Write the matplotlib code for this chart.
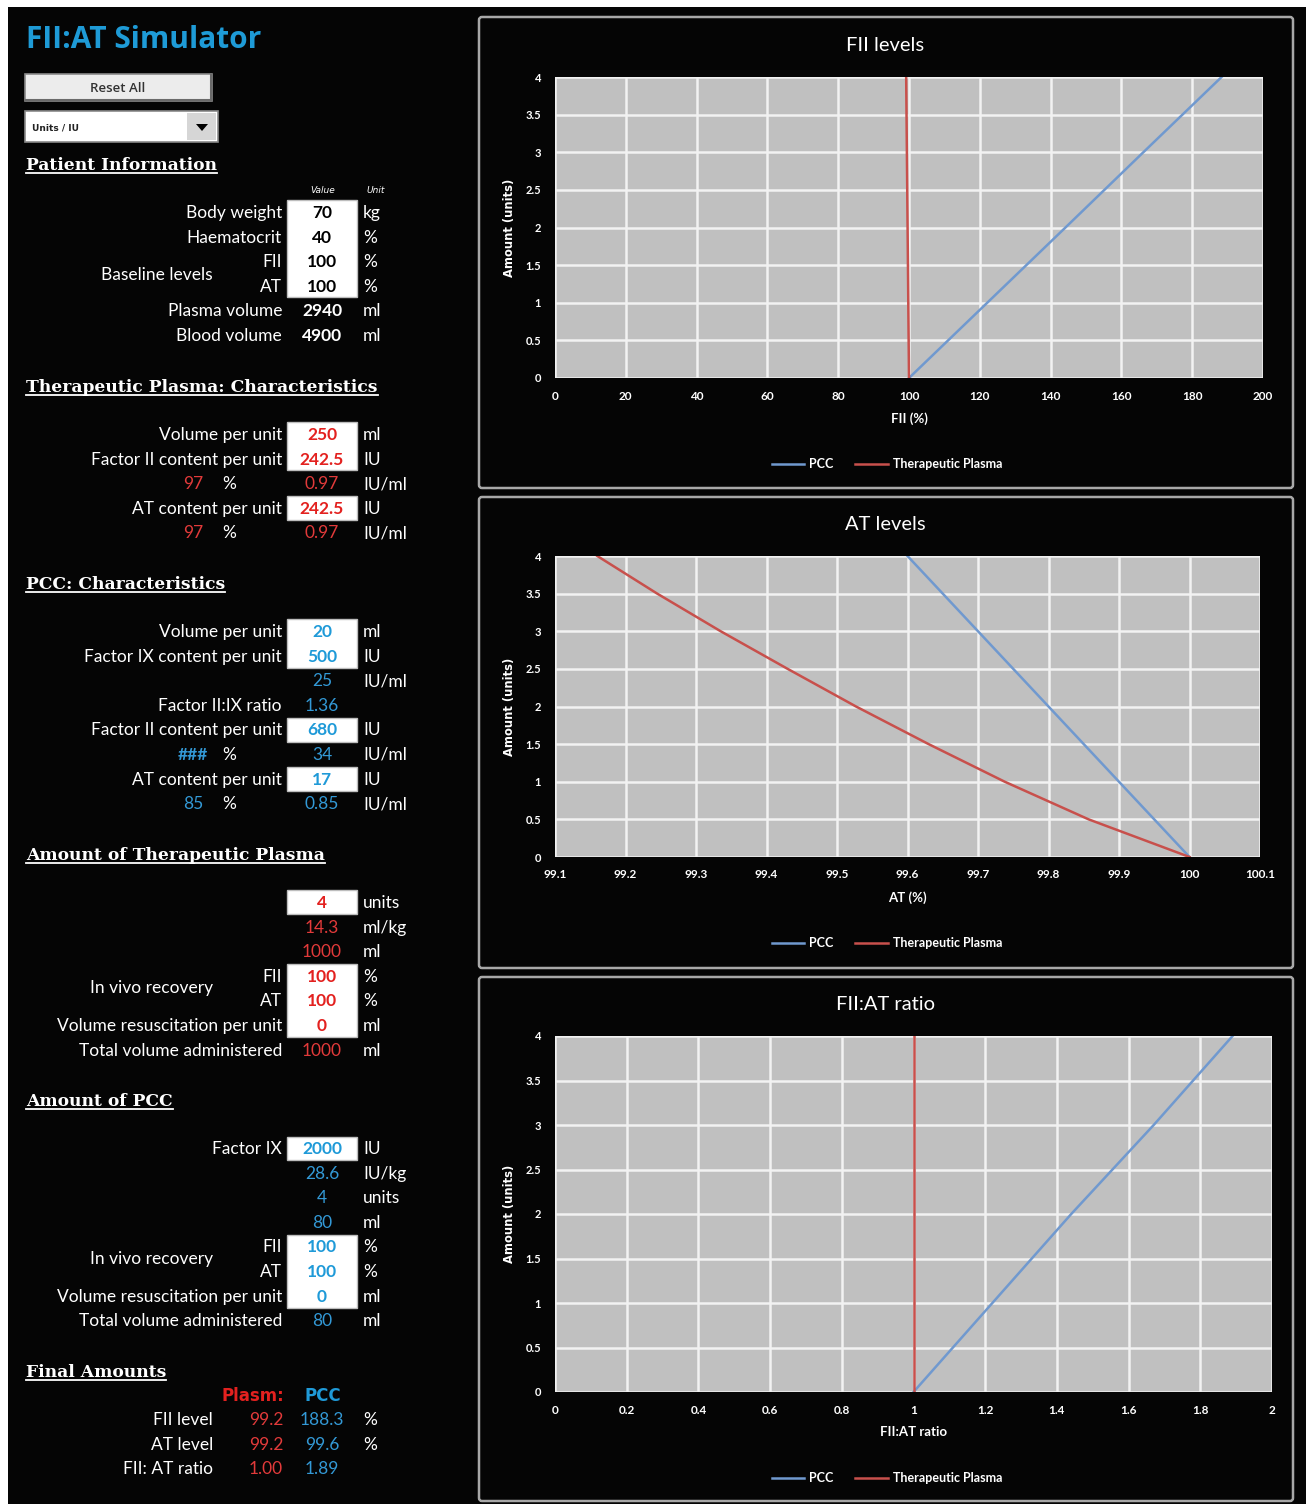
import matplotlib
matplotlib.use('Agg')
import matplotlib.pyplot as plt
from matplotlib.patches import Rectangle, FancyBboxPatch, Polygon

# ---------------- chart data ----------------
amount_units = [0, 1, 2, 3, 4]
fii_pcc = [100.0, 122.1, 144.2, 166.2, 188.3]
fii_plasma = [100.0, 99.8, 99.6, 99.4, 99.2]
amount_units_half = [0, 0.5, 1, 1.5, 2, 2.5, 3, 3.5, 4]
at_pcc = [100.0, 99.95, 99.9, 99.85, 99.8, 99.75, 99.7, 99.65, 99.6]
at_plasma = [100.0, 99.857, 99.738, 99.63, 99.527, 99.43, 99.335, 99.245, 99.16]
ratio_pcc = [1.00, 1.22, 1.44, 1.67, 1.89]
ratio_plasma = [1.00, 1.00, 1.00, 1.00, 1.00]

amount_ticks = [0, 0.5, 1, 1.5, 2, 2.5, 3, 3.5, 4]
amount_ticklabels = ['0', '0.5', '1', '1.5', '2', '2.5', '3', '3.5', '4']
fii_ticks = [0, 20, 40, 60, 80, 100, 120, 140, 160, 180, 200]
fii_ticklabels = ['0', '20', '40', '60', '80', '100', '120', '140', '160', '180', '200']
at_ticks = [99.1, 99.2, 99.3, 99.4, 99.5, 99.6, 99.7, 99.8, 99.9, 100.0, 100.1]
at_ticklabels = ['99.1', '99.2', '99.3', '99.4', '99.5', '99.6', '99.7', '99.8', '99.9', '100', '100.1']
ratio_ticks = [0, 0.2, 0.4, 0.6, 0.8, 1.0, 1.2, 1.4, 1.6, 1.8, 2.0]
ratio_ticklabels = ['0', '0.2', '0.4', '0.6', '0.8', '1', '1.2', '1.4', '1.6', '1.8', '2']

# ---------------- spreadsheet data ----------------
patient_labels = ['Body weight', 'Haematocrit', 'FII', 'AT', 'Plasma volume', 'Blood volume']
patient_values = ['70', '40', '100', '100', '2940', '4900']
patient_units = ['kg', '%', '%', '%', 'ml', 'ml']
patient_inputs = [True, True, True, True, False, False]

tp_labels = ['Volume per unit', 'Factor II content per unit', '', 'AT content per unit', '']
tp_values = ['250', '242.5', '0.97', '242.5', '0.97']
tp_units = ['ml', 'IU', 'IU/ml', 'IU', 'IU/ml']
tp_pcts = ['', '', '97', '', '97']
tp_inputs = [True, True, False, True, False]

pcc_labels = ['Volume per unit', 'Factor IX content per unit', '', 'Factor II:IX ratio',
              'Factor II content per unit', '', 'AT content per unit', '']
pcc_values = ['20', '500', '25', '1.36', '680', '34', '17', '0.85']
pcc_units = ['ml', 'IU', 'IU/ml', '', 'IU', 'IU/ml', 'IU', 'IU/ml']
pcc_pcts = ['', '', '', '', '', '###', '', '85']
pcc_inputs = [True, True, False, False, True, False, True, False]

atp_labels = ['', '', '', 'FII', 'AT', 'Volume resuscitation per unit', 'Total volume administered']
atp_values = ['4', '14.3', '1000', '100', '100', '0', '1000']
atp_units = ['units', 'ml/kg', 'ml', '%', '%', 'ml', 'ml']
atp_inputs = [True, False, False, True, True, True, False]

apcc_labels = ['Factor IX', '', '', '', 'FII', 'AT', 'Volume resuscitation per unit', 'Total volume administered']
apcc_values = ['2000', '28.6', '4', '80', '100', '100', '0', '80']
apcc_units = ['IU', 'IU/kg', 'units', 'ml', '%', '%', 'ml', 'ml']
apcc_inputs = [True, False, False, False, True, True, True, False]

final_labels = ['FII level', 'AT level', 'FII: AT ratio']
final_plasma = ['99.2', '99.2', '1.00']
final_pcc = ['188.3', '99.6', '1.89']
final_units = ['%', '%', '']

# ---------------- styling ----------------
W, H = 1306, 1504
BG = '#050505'
RED = '#e3211f'
RED_T = '#e23a3a'
BLUE = '#1f9ad8'
BLUE_T = '#3399d6'
TITLE_BLUE = '#1e9bd7'
LINE_BLUE = '#7099cf'
LINE_RED = '#c8504c'
LBL = 'Lato'
HEAD = 'DejaVu Serif'

fig = plt.figure(figsize=(W / 100, H / 100), dpi=100, facecolor='white')
ov = fig.add_axes([0, 0, 1, 1])
ov.set_xlim(0, W)
ov.set_ylim(H, 0)
ov.axis('off')
ov.add_patch(Rectangle((8, 7), W - 8, H - 7, facecolor=BG, edgecolor='none', zorder=0))

# chart panel frames
for (x0, y0, x1, y1) in [(479, 17, 1293, 488), (479, 497, 1293, 968), (479, 977, 1293, 1501)]:
    ov.add_patch(FancyBboxPatch((x0, y0), x1 - x0, y1 - y0, boxstyle='round,pad=0,rounding_size=3',
                                facecolor='none', edgecolor='#a8a8a8', lw=1.8, zorder=2))

# title
ov.text(26, 48, 'FII:AT Simulator', color=TITLE_BLUE, fontsize=21.5, fontweight='bold',
        family='Open Sans', va='baseline', ha='left')

# Reset button
ov.add_patch(Rectangle((25, 74), 187, 27, facecolor='#ececec', edgecolor='#8a8a8a', lw=1.2, zorder=2))
ov.plot([26, 211], [100, 100], color='#6a6a6a', lw=1.5, zorder=3)
ov.plot([211, 211], [75, 100], color='#6a6a6a', lw=1.5, zorder=3)
ov.text(118, 88, 'Reset All', color='#333333', fontsize=9.5, fontweight='semibold', family='Open Sans',
        ha='center', va='center', zorder=3)
# dropdown
ov.add_patch(Rectangle((25, 111), 193, 31, facecolor='white', edgecolor='#8a8a8a', lw=1.2, zorder=2))
ov.add_patch(Rectangle((187, 113), 29, 27, facecolor='#d6d6d6', edgecolor='none', zorder=3))
ov.add_patch(Polygon([(196, 124), (208, 124), (202, 131)], closed=True, facecolor='black', zorder=4))
ov.text(32, 128, 'Units / IU', color='#222222', fontsize=6.5, fontweight='bold', family='DejaVu Sans',
        ha='left', va='center', zorder=4)

X_LABEL = 282
X_VAL = 322
X_UNIT = 363
X_PCTN = 193
X_PCTS = 229
STEP = 24.6
FS = 12.5
BASE = 6


def lab(x, y, s, ha='right', color='white', **kw):
    if s:
        ov.text(x, y + BASE, s, color=color, fontsize=kw.pop('fontsize', FS), family=kw.pop('family', LBL),
                ha=ha, va='baseline', zorder=5, **kw)


def box(x0, y0, x1, y1):
    ov.add_patch(Rectangle((x0, y0), x1 - x0, y1 - y0, facecolor='white', edgecolor='#bdbdbd', lw=1, zorder=3))


headings = []


def heading(y, s):
    t = ov.text(26, y + 7, s, color='white', fontsize=12.3, fontweight='bold', family=HEAD,
                ha='left', va='baseline', zorder=5)
    headings.append((t, y + 10))


def section(y0, labels, values, units, inputs, in_color, out_color, pcts=None, pct_color=None):
    for i, (l, v, u, inp) in enumerate(zip(labels, values, units, inputs)):
        y = y0 + STEP * i
        lab(X_LABEL, y, l)
        if inp:
            lab(X_VAL, y, v, ha='center', color=in_color, fontweight='bold')
        else:
            lab(X_VAL, y, v, ha='center', color=out_color)
        lab(X_UNIT, y, u, ha='left')
        if pcts is not None and pcts[i]:
            lab(X_PCTN, y, pcts[i], ha='center', color=pct_color,
                fontweight='bold' if pcts[i].startswith('#') else 'normal')
            lab(X_PCTS, y, '%', ha='center')


# ---- Patient information
heading(163, 'Patient Information')
ov.text(323, 193, 'Value', color='white', fontsize=6.5, style='italic', family='DejaVu Sans',
        ha='center', va='baseline', zorder=5)
ov.text(376, 193, 'Unit', color='white', fontsize=6.5, style='italic', family='DejaVu Sans',
        ha='center', va='baseline', zorder=5)
box(287, 200, 357, 297)
for i, (l, v, u, inp) in enumerate(zip(patient_labels, patient_values, patient_units, patient_inputs)):
    y = 212 + STEP * i
    lab(X_LABEL, y, l)
    lab(X_VAL, y, v, ha='center', color='black' if inp else 'white', fontweight='bold')
    lab(X_UNIT, y, u, ha='left')
lab(213, 274, 'Baseline levels')

# ---- Therapeutic plasma characteristics
heading(385, 'Therapeutic Plasma: Characteristics')
box(287, 422, 357, 470)
box(287, 496, 357, 520)
section(434, tp_labels, tp_values, tp_units, tp_inputs, RED, RED_T, pcts=tp_pcts, pct_color=RED_T)

# ---- PCC characteristics
heading(582, 'PCC: Characteristics')
box(287, 619, 357, 668)
box(287, 718, 357, 742)
box(287, 767, 357, 791)
section(631, pcc_labels, pcc_values, pcc_units, pcc_inputs, BLUE, BLUE_T, pcts=pcc_pcts, pct_color=BLUE_T)

# ---- Amount of therapeutic plasma
heading(853, 'Amount of Therapeutic Plasma')
box(287, 890, 357, 914)
box(287, 964, 357, 1037)
section(902, atp_labels, atp_values, atp_units, atp_inputs, RED, RED_T)
lab(213, 987, 'In vivo recovery')

# ---- Amount of PCC
heading(1099, 'Amount of PCC')
box(287, 1137, 357, 1160)
box(287, 1235, 357, 1308)
section(1148, apcc_labels, apcc_values, apcc_units, apcc_inputs, BLUE, BLUE_T)
lab(213, 1258, 'In vivo recovery')

# ---- Final amounts
heading(1370, 'Final Amounts')
lab(284, 1395, 'Plasm:', ha='right', color=RED, fontweight='bold', family='DejaVu Sans', fontsize=12)
lab(323, 1395, 'PCC', ha='center', color=BLUE, fontweight='bold', family='DejaVu Sans', fontsize=12)
for i, (l, p, c, u) in enumerate(zip(final_labels, final_plasma, final_pcc, final_units)):
    y = 1419 + STEP * i
    lab(213, y, l)
    lab(283, y, p, ha='right', color=RED_T)
    lab(X_VAL, y, c, ha='center', color=BLUE_T)
    lab(X_UNIT, y, u, ha='left')


# ---------------- charts ----------------
def chart(box_px, xs_pcc, xs_tp, ys, xlim, xticks, xticklabels, title, xlabel):
    x0, y0, x1, y1 = box_px
    ax = fig.add_axes([x0 / W, 1 - y1 / H, (x1 - x0) / W, (y1 - y0) / H])
    ax.set_facecolor('#c0c0c0')
    ax.plot(xs_pcc, ys, color=LINE_BLUE, lw=1.8, label='PCC', zorder=3)
    ax.plot(xs_tp, ys, color=LINE_RED, lw=1.8, label='Therapeutic Plasma', zorder=3)
    ax.set_xlim(*xlim)
    ax.set_ylim(0, 4)
    ax.set_xticks(xticks)
    ax.set_xticklabels(xticklabels)
    ax.set_yticks(amount_ticks)
    ax.set_yticklabels(amount_ticklabels)
    ax.set_axisbelow(True)
    ax.grid(True, color='#f2f2f2', lw=1.8)
    ax.tick_params(length=0, colors='white')
    ax.tick_params(axis='y', pad=10, labelsize=8)
    ax.tick_params(axis='x', pad=9, labelsize=8.5)
    for lbl in ax.get_xticklabels() + ax.get_yticklabels():
        lbl.set_fontweight('bold')
        lbl.set_family(LBL)
    for s in ax.spines.values():
        s.set_visible(False)
    ax.set_title(title, color='white', fontsize=14.5, family=LBL, pad=18.5, x=(885 - x0) / (x1 - x0))
    ax.set_xlabel(xlabel, color='white', fontsize=9.5, family=LBL, fontweight='bold')
    ax.xaxis.set_label_coords(0.5, -(34 / (y1 - y0)))
    ax.set_ylabel('Amount (units)', color='white', fontsize=8.3, family='DejaVu Sans', fontweight='bold')
    ax.yaxis.set_label_coords(-(39 / (x1 - x0)), 0.5)
    leg = ax.legend(loc='center', bbox_to_anchor=(887 / W, 1 - (y1 + 86) / H), bbox_transform=fig.transFigure,
                    ncol=2, frameon=False, handlelength=2.6, columnspacing=1.7, handletextpad=0.4,
                    prop={'family': LBL, 'weight': 'bold', 'size': 9})
    for t in leg.get_texts():
        t.set_color('white')
    return ax


chart((555, 77, 1263, 378), fii_pcc, fii_plasma, amount_units, (0, 200), fii_ticks, fii_ticklabels,
      'FII levels', 'FII (%)')
chart((555, 556, 1260, 857), at_pcc, at_plasma, amount_units_half, (99.1, 100.1), at_ticks, at_ticklabels,
      'AT levels', 'AT (%)')
chart((555, 1036, 1272, 1392), ratio_pcc, ratio_plasma, amount_units, (0, 2), ratio_ticks, ratio_ticklabels,
      'FII:AT ratio', 'FII:AT ratio')

# underline headings
fig.canvas.draw()
r = fig.canvas.get_renderer()
for t, yl in headings:
    bb = t.get_window_extent(r)
    ov.plot([bb.x0, bb.x1], [yl, yl], color='white', lw=1.3, zorder=5)

fig.savefig('out.png', dpi=100, facecolor=fig.get_facecolor())
